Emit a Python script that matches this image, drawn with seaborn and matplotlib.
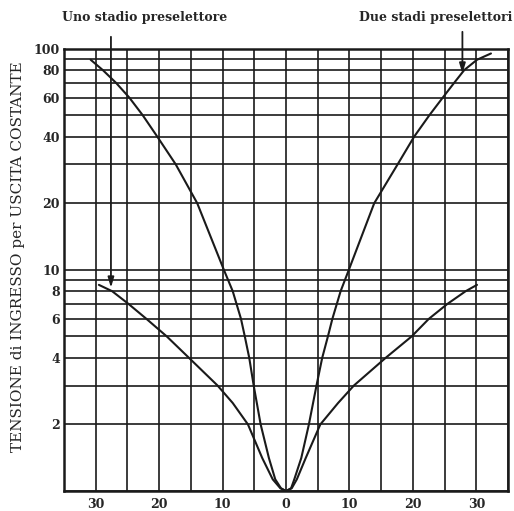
import numpy as np
import pandas as pd
import matplotlib
matplotlib.use("Agg")
import matplotlib.pyplot as plt
import seaborn as sns

# Curve: two preselector stages (steep curve)
due_x = [-30.8, -28.9, -26.8, -24.7, -22.6, -20.3, -17.4, -14.0, -9.8, -8.4,
         -7.1, -6.5, -5.8, -5.1, -4.0, -2.7, -1.7, -0.8, 0.0, 0.8, 1.3, 2.4,
         3.6, 4.8, 5.7, 6.6, 7.3, 8.6, 9.9, 13.9, 17.6, 20.2, 22.6, 24.7,
         26.5, 28.1, 30.1, 32.3]
due_v = [89, 80, 70, 60, 50, 40, 30, 20, 10, 8,
         6, 5, 4, 3, 2, 1.41, 1.13, 1.03, 1.0, 1.03, 1.13, 1.41,
         2, 3, 4, 5, 6, 8, 10, 20, 30, 40, 50, 60,
         70, 80, 89, 95]

# Curve: one preselector stage (shallow curve)
uno_x = [-29.5, -27.4, -24.8, -22.0, -18.8, -15.3, -10.8, -8.4, -6.0, -3.75,
         -2.1, -0.9, 0.0, 0.9, 1.7, 3.1, 5.4, 8.2, 10.7, 15.7, 19.8, 22.5,
         25.4, 28.3, 30.1]
uno_v = [8.55, 8, 7, 6, 5, 4, 3, 2.5, 2, 1.41,
         1.13, 1.03, 1.0, 1.03, 1.13, 1.41, 2, 2.5, 3, 4, 5, 6,
         7, 8, 8.55]

x_labels = [-30, -20, -10, 0, 10, 20, 30]
y_labels = [2, 4, 6, 8, 10, 20, 40, 60, 80, 100]

df_due = pd.DataFrame({"x": due_x, "v": due_v})
df_uno = pd.DataFrame({"x": uno_x, "v": uno_v})

sns.set_style("white")
plt.rcParams["font.family"] = ["DejaVu Serif"]

fig = plt.figure(figsize=(5.14, 5.11), dpi=100)
ax = fig.add_axes([0.1245, 0.039, 0.864, 0.866])

ink = "#1a1a1a"
sns.lineplot(data=df_due, x="x", y="v", ax=ax, color=ink, lw=1.5, estimator=None)
sns.lineplot(data=df_uno, x="x", y="v", ax=ax, color=ink, lw=1.5, estimator=None)

ax.set_yscale("log")
ax.set_xlim(-35, 35)
ax.set_ylim(1, 100)

# grid: every 5 units horizontally, every 1..9 per decade vertically
ax.set_xticks(x_labels)
ax.set_xticks(np.arange(-35, 36, 5), minor=True)
ax.set_xticklabels([str(abs(v)) for v in x_labels], fontsize=9, fontweight="bold")
ax.set_yticks(y_labels)
ax.set_yticks([1, 3, 5, 7, 9, 30, 50, 70, 90], minor=True)
ax.set_yticklabels([str(v) for v in y_labels], fontsize=9, fontweight="bold")
ax.yaxis.set_minor_formatter(matplotlib.ticker.NullFormatter())
ax.grid(True, which="both", color=ink, lw=1.2)
ax.tick_params(which="both", length=0)
ax.tick_params(axis="y", pad=3)
ax.tick_params(axis="x", pad=5)

for s in ax.spines.values():
    s.set_color(ink)
    s.set_linewidth(1.8)

ax.set_xlabel("")
ax.set_ylabel("TENSIONE di INGRESSO per USCITA COSTANTE", fontsize=11, va="center")
ax.yaxis.set_label_coords(-0.104, 0.53)

# annotations with arrows
fig.text(0.121, 0.966, "Uno stadio preselettore", fontsize=9, fontweight="bold",
         ha="left", va="center")
fig.text(0.997, 0.966, "Due stadi preselettori", fontsize=9, fontweight="bold",
         ha="right", va="center")
arrow = dict(arrowstyle="-|>,head_length=0.6,head_width=0.18", color=ink, lw=1.3,
             shrinkA=0, shrinkB=0)
ax.annotate("", xy=(-27.6, 8.3), xytext=(-27.6, 113), arrowprops=arrow,
            annotation_clip=False)
ax.annotate("", xy=(27.8, 77), xytext=(27.8, 119), arrowprops=arrow,
            annotation_clip=False)

fig.savefig("out.png", dpi=100, facecolor="white")
